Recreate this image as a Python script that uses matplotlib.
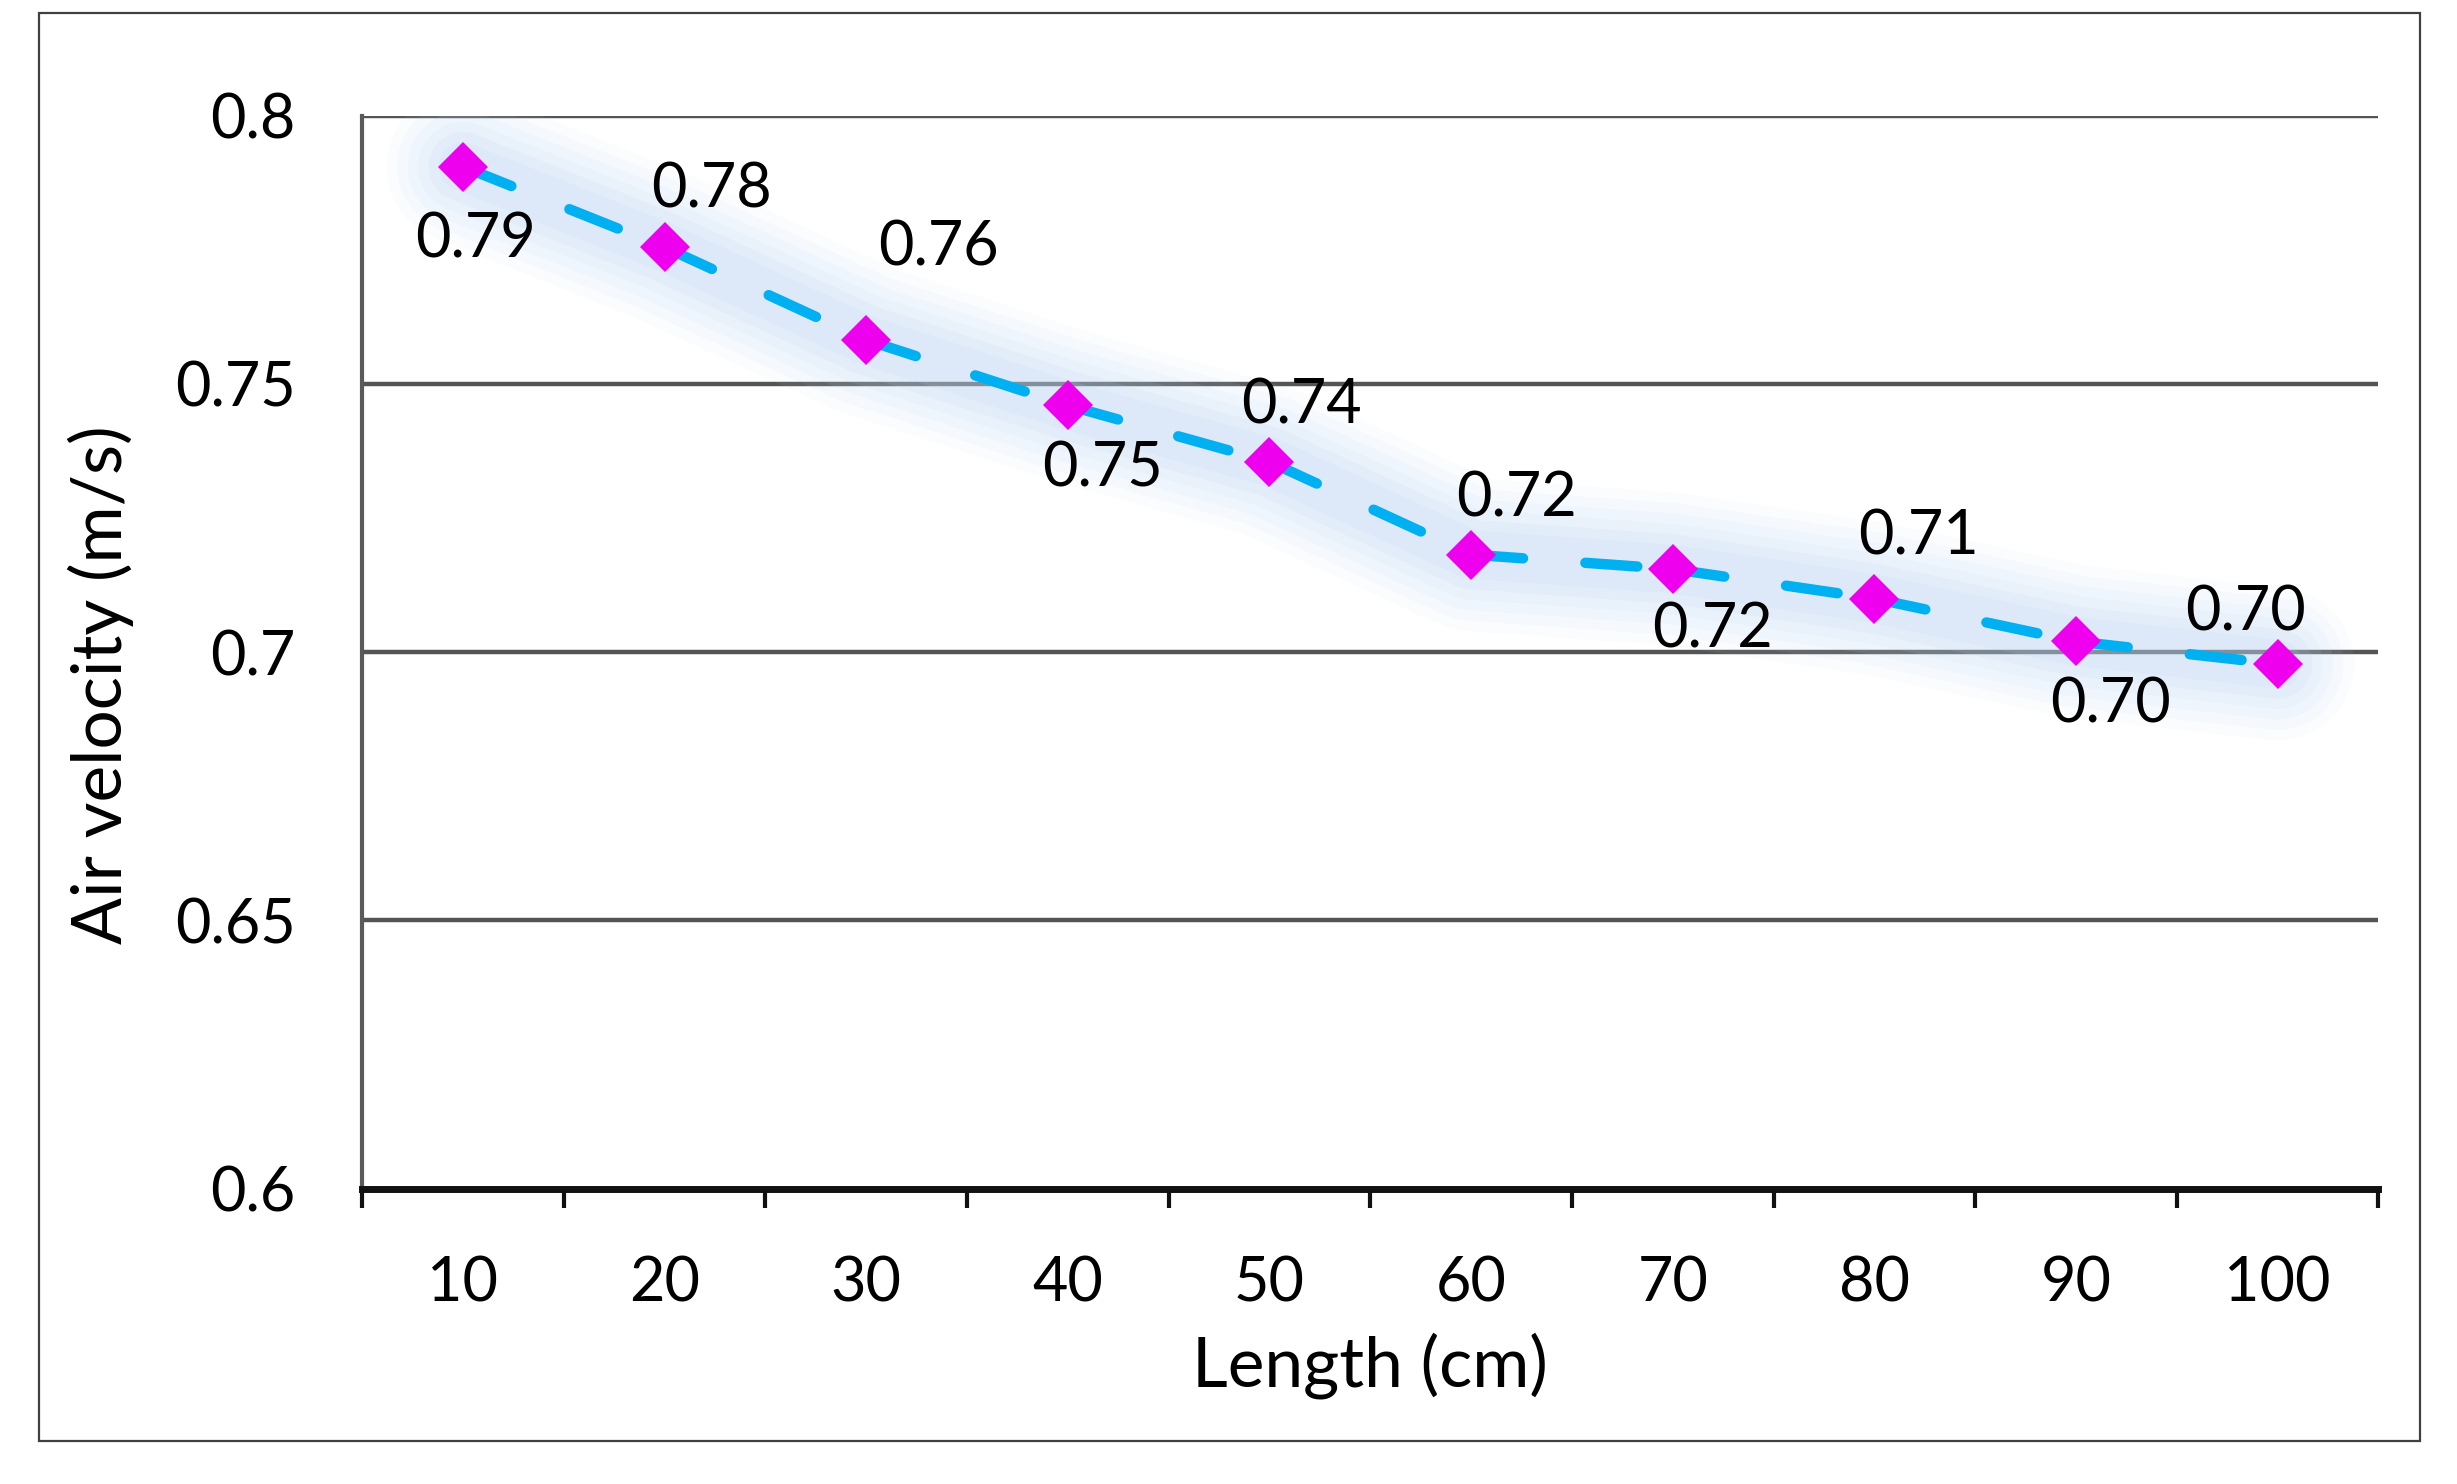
import numpy as np
import matplotlib.pyplot as plt

lengths = ["10", "20", "30", "40", "50", "60", "70", "80", "90", "100"]
velocity = [0.7905, 0.7755, 0.7582, 0.7460, 0.7355, 0.7182, 0.7155, 0.7100, 0.7020, 0.6978]
yticks = [0.6, 0.65, 0.7, 0.75, 0.8]
ytick_labels = ["0.6", "0.65", "0.7", "0.75", "0.8"]

# label offsets (points) so labels sit above / below like the original
label_offsets = [(9, -53), (34, 41), (52, 66), (25, -46), (23, 40),
                 (33, 40), (29, -44), (32, 44), (25, -46), (-23, 37)]

plt.rcParams['font.family'] = ['Lato', 'DejaVu Sans']

fig = plt.figure(figsize=(24.57, 14.84), dpi=100)
ax = fig.add_axes([0.1474, 0.199, 0.8206, 0.723])

x = np.arange(len(lengths))

# soft glow behind the trend line
for w, a in [(110, 0.07), (95, 0.08), (80, 0.09), (65, 0.1), (50, 0.12), (35, 0.14)]:
    ax.plot(x, velocity, color="#bcd6f2", linewidth=w, alpha=a,
            solid_capstyle="round", solid_joinstyle="round", zorder=1)

# dashed line, pattern restarting on each segment
for i in range(len(x) - 1):
    ax.plot(x[i:i + 2], velocity[i:i + 2], color="#00b0f0", linewidth=7.5,
            linestyle=(0, (5, 6)), dash_capstyle="round", zorder=3)

ax.plot(x, velocity, linestyle="none", marker="D", markersize=25,
        color="#ee00ee", markeredgewidth=0, zorder=4)

for xi, v, (dx, dy) in zip(x, velocity, label_offsets):
    ax.annotate("%.2f" % v, (xi, v), xytext=(dx, dy), textcoords="offset points",
                ha="center", va="center", fontsize=44, color="black", zorder=5)

ax.set_xlim(-0.5, len(lengths) - 0.5)
ax.set_ylim(0.6, 0.8)
ax.set_yticks(yticks)
ax.set_yticklabels(ytick_labels)
ax.set_xticks(x)
ax.set_xticklabels(lengths)
ax.set_xticks(np.arange(-0.5, len(lengths)), minor=True)

ax.tick_params(axis="x", which="major", length=0, pad=48, labelsize=44)
ax.tick_params(axis="x", which="minor", length=14, width=3, direction="out", color="#111111")
ax.tick_params(axis="y", length=0, pad=48, labelsize=44)

ax.grid(axis="y", color="#555555", linewidth=3.2, zorder=0)
ax.set_axisbelow(True)

for s in ["top", "right"]:
    ax.spines[s].set_visible(False)
ax.spines["left"].set_color("#5a5a5a")
ax.spines["left"].set_linewidth(3)
ax.spines["bottom"].set_color("#111111")
ax.spines["bottom"].set_linewidth(5)

ax.set_xlabel("Length (cm)", fontsize=50, labelpad=14)
ax.set_ylabel("Air velocity (m/s)", fontsize=50)
ax.yaxis.set_label_coords(-0.113, 0.47)

# outer chart border
border = plt.Rectangle((0.016, 0.029), 0.969, 0.9625, transform=fig.transFigure,
                       fill=False, edgecolor="#404040", linewidth=1.6)
fig.patches.append(border)

fig.savefig("out.png", dpi=100)
